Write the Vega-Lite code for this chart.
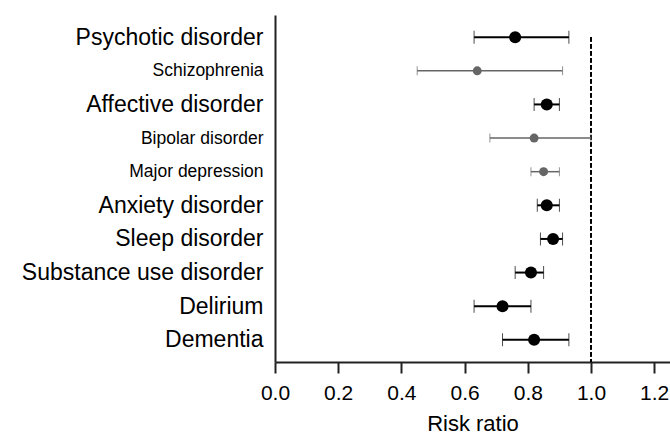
{
  "$schema": "https://vega.github.io/schema/vega-lite/v6.json",
  "autosize": {"type": "none"},
  "padding": {"left": 275, "top": 15, "right": 0, "bottom": 75},
  "width": 395,
  "height": 347,
  "background": "white",
  "config": {
    "view": {"stroke": null},
    "font": "Liberation Sans",
    "axis": {"labelFont": "Liberation Sans", "titleFont": "Liberation Sans"}
  },
  "data": {
    "values": [
      {"label": "Psychotic disorder", "group": "main", "rr": 0.76, "lo": 0.63, "hi": 0.93},
      {"label": "Schizophrenia", "group": "sub", "rr": 0.64, "lo": 0.45, "hi": 0.91},
      {"label": "Affective disorder", "group": "main", "rr": 0.86, "lo": 0.82, "hi": 0.90},
      {"label": "Bipolar disorder", "group": "sub", "rr": 0.82, "lo": 0.68, "hi": 1.00},
      {"label": "Major depression", "group": "sub", "rr": 0.85, "lo": 0.81, "hi": 0.90},
      {"label": "Anxiety disorder", "group": "main", "rr": 0.86, "lo": 0.83, "hi": 0.90},
      {"label": "Sleep disorder", "group": "main", "rr": 0.88, "lo": 0.84, "hi": 0.91},
      {"label": "Substance use disorder", "group": "main", "rr": 0.81, "lo": 0.76, "hi": 0.85},
      {"label": "Delirium", "group": "main", "rr": 0.72, "lo": 0.63, "hi": 0.81},
      {"label": "Dementia", "group": "main", "rr": 0.82, "lo": 0.72, "hi": 0.93}
    ]
  },
  "encoding": {
    "y": {
      "field": "label",
      "type": "nominal",
      "sort": null,
      "scale": {"type": "point", "padding": 0.66},
      "axis": {
        "title": null,
        "ticks": false,
        "domainColor": "#222",
        "domainWidth": 2,
        "labelColor": "black",
        "labelPadding": 12,
        "labelLimit": 400,
        "labelExpr": "indexof(['Schizophrenia','Bipolar disorder','Major depression'], datum.value) >= 0 ? datum.value + ' ' : datum.value",
        "labelFontSize": {
          "condition": {"test": "indexof(['Schizophrenia','Bipolar disorder','Major depression'], datum.value) >= 0", "value": 17.5},
          "value": 23
        }
      }
    },
    "color": {"field": "group", "type": "nominal", "scale": {"domain": ["main", "sub"], "range": ["black", "#666666"]}, "legend": null}
  },
  "layer": [
    {
      "mark": {"type": "rule", "strokeDash": [4, 3], "strokeWidth": 1.5, "color": "black"},
      "encoding": {
        "x": {"datum": 1},
        "y": {"datum": "Psychotic disorder"},
        "y2": {"value": "height"},
        "color": {"value": "black"}
      }
    },
    {
      "mark": {"type": "rule"},
      "encoding": {
        "x": {
          "field": "lo",
          "type": "quantitative",
          "scale": {"domain": [0, 1.25], "nice": false, "zero": true},
          "axis": {
            "title": "Risk ratio",
            "values": [0, 0.2, 0.4, 0.6, 0.8, 1.0, 1.2],
            "format": ".1f",
            "grid": false,
            "domainColor": "#222",
            "domainWidth": 2,
            "tickColor": "#222",
            "tickWidth": 2,
            "tickSize": 11,
            "labelFontSize": 21,
            "labelColor": "black",
            "labelPadding": 9,
            "labelFlush": false,
            "titleFontSize": 22,
            "titleFontWeight": "normal",
            "titleColor": "black",
            "titlePadding": 10
          }
        },
        "x2": {"field": "hi"},
        "strokeWidth": {"field": "group", "type": "nominal", "scale": {"domain": ["main", "sub"], "range": [2, 1.5]}, "legend": null}
      }
    },
    {
      "mark": {"type": "tick", "orient": "vertical"},
      "encoding": {
        "x": {"field": "lo", "type": "quantitative"},
        "size": {"field": "group", "type": "nominal", "scale": {"domain": ["main", "sub"], "range": [13, 9]}, "legend": null},
        "strokeWidth": {"field": "group", "type": "nominal", "scale": {"domain": ["main", "sub"], "range": [2, 1.5]}, "legend": null}
      }
    },
    {
      "mark": {"type": "tick", "orient": "vertical"},
      "encoding": {
        "x": {"field": "hi", "type": "quantitative"},
        "size": {"field": "group", "type": "nominal", "scale": {"domain": ["main", "sub"], "range": [13, 9]}, "legend": null},
        "strokeWidth": {"field": "group", "type": "nominal", "scale": {"domain": ["main", "sub"], "range": [2, 1.5]}, "legend": null}
      }
    },
    {
      "mark": {"type": "circle", "opacity": 1},
      "encoding": {
        "x": {"field": "rr", "type": "quantitative"},
        "size": {"field": "group", "type": "nominal", "scale": {"domain": ["main", "sub"], "range": [145, 80]}, "legend": null}
      }
    }
  ],
  "resolve": {"scale": {"size": "independent", "strokeWidth": "independent"}}
}
